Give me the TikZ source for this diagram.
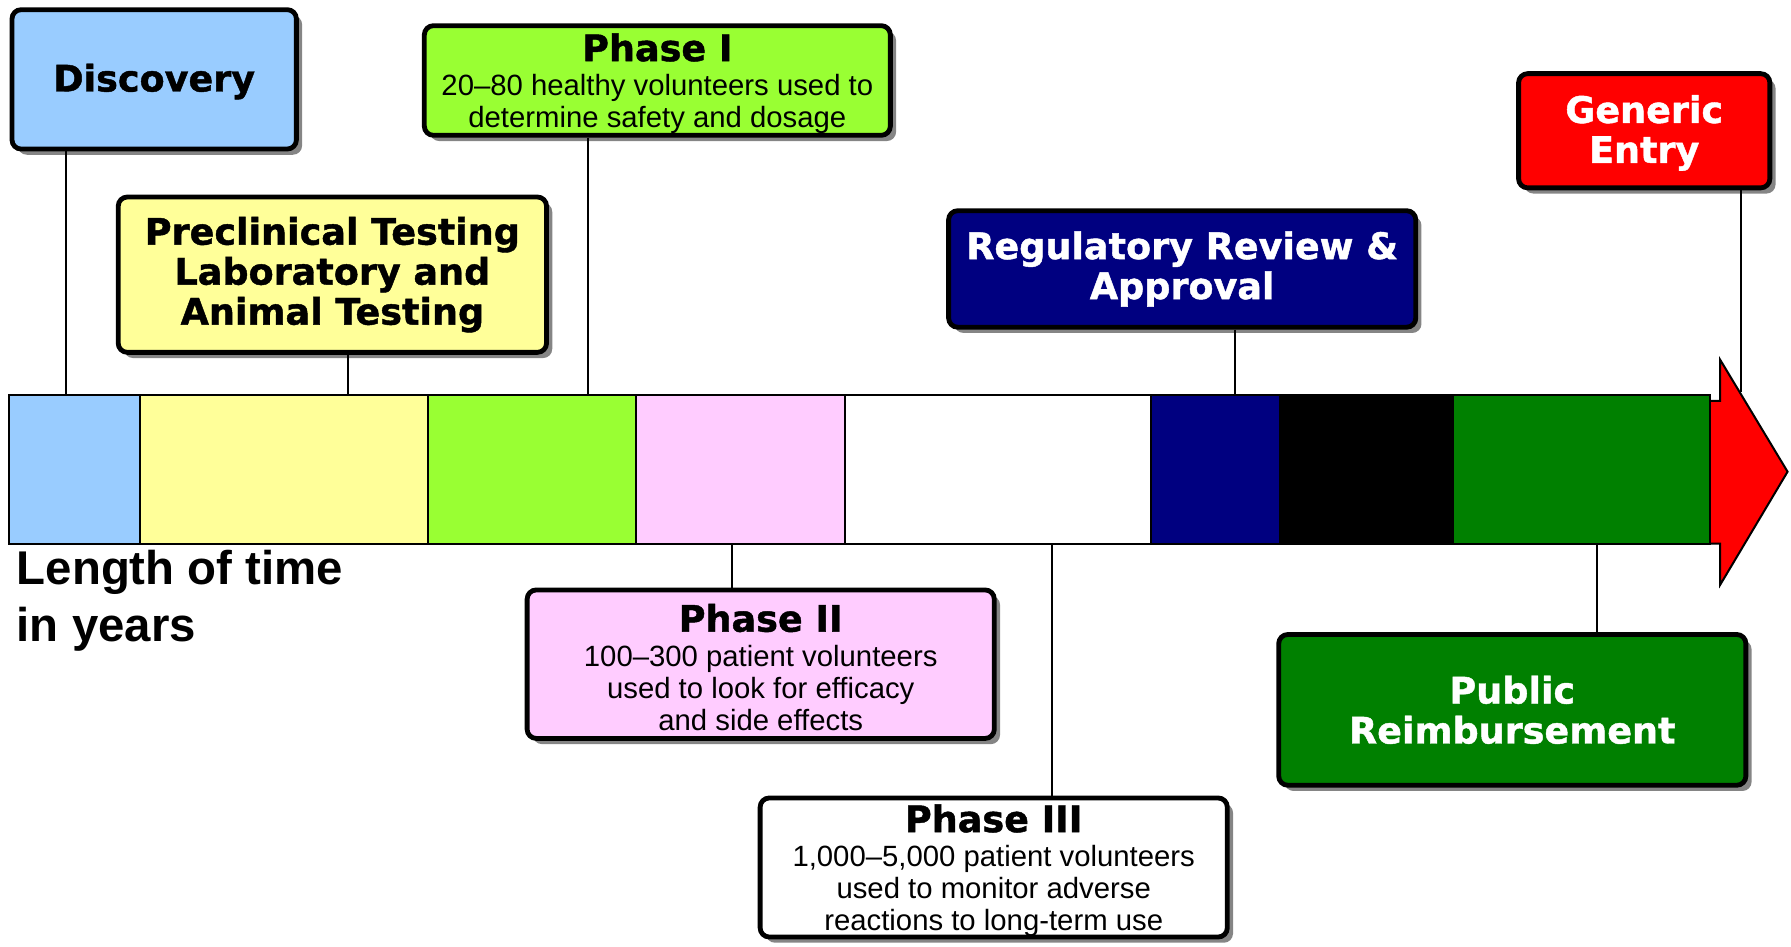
\documentclass[tikz,border=0pt]{standalone}
\usepackage{fontspec}
\setmainfont{Liberation Sans}
\newfontfamily\blackfont{DejaVu Sans}[BoldFeatures={FakeBold=1.2}]
\usetikzlibrary{shadows}

\definecolor{discblue}{HTML}{99CCFF}
\definecolor{preyellow}{HTML}{FFFF99}
\definecolor{limegreen}{HTML}{99FF33}
\definecolor{palepink}{HTML}{FFCCFF}
\definecolor{regnavy}{HTML}{000080}
\definecolor{pubgreen}{HTML}{008000}
\definecolor{shadowgray}{HTML}{858585}

\newcommand{\stagefont}{\blackfont\bfseries\fontsize{9.1}{9.96}\selectfont}
\newcommand{\notefont}{\fontsize{7.3}{7.97}\selectfont}
\newcommand{\phasehead}[1]{{\stagefont\rule{0pt}{8.5pt}#1}\\[0.25mm]}

\begin{document}
\begin{tikzpicture}[x=0.1mm,y=-0.1mm]
\tikzstyle{stagebox}=[draw=black, line width=1.2pt, rounded corners=0.8mm, align=center, inner sep=0pt,
  drop shadow={shadow xshift=0.5mm, shadow yshift=-0.5mm, fill=shadowgray, opacity=1}];
\tikzstyle{cell}=[draw=black, line width=0.5pt];
\tikzstyle{tick}=[draw=black, line width=0.5pt];

\useasboundingbox (0,0) rectangle (1568,829);

\def \bartop{346};
\def \barbot{476};

% arrow head behind the bar
\draw [cell, fill=red] (1490,351) -- (1506,351) -- (1506,315) -- (1565,413) -- (1506,512) -- (1506,476) -- (1490,476) -- cycle;

% the bar, one cell per stage
\foreach \a/\b/\c in {8/123/discblue, 123/375/preyellow, 375/557/limegreen, 557/740/palepink,
                      740/1008/white, 1008/1121/regnavy, 1121/1272/black, 1272/1497/pubgreen}
  \draw [cell, fill=\c] (\a,\bartop) rectangle (\b,\barbot);

% where the labels meet the bar
\coordinate (tdisc) at (58,\bartop);
\coordinate (tprecl) at (305,\bartop);
\coordinate (tphone) at (515,\bartop);
\coordinate (treg) at (1081,\bartop);
\coordinate (tgen) at (1524,343);
\coordinate (tphtwo) at (641,\barbot);
\coordinate (tphthree) at (921,\barbot);
\coordinate (tpub) at (1398,\barbot);

% labels above the bar
\node (disc) [stagebox, fill=discblue, font=\stagefont, minimum width=24.9mm, minimum height=12.2mm] at (135,69.5) {\rule{0pt}{8pt}Discovery};
\node (precl) [stagebox, fill=preyellow, font=\stagefont, minimum width=37.5mm, minimum height=13.6mm] at (291,240.5)
  {Preclinical Testing\\Laboratory and\\Animal Testing};
\node (phone) [stagebox, fill=limegreen, font=\notefont, minimum width=40.8mm, minimum height=9.6mm] at (575.5,70.5)
  {\phasehead{Phase I}20--80 healthy volunteers used to\\determine safety and dosage};
\node (reg) [stagebox, fill=regnavy, text=white, font=\stagefont, minimum width=40.9mm, minimum height=10.2mm] at (1035,235.5)
  {Regulatory Review \&\\Approval};
\node (gen) [stagebox, fill=red, text=white, font=\stagefont, minimum width=22mm, minimum height=10mm] at (1439.5,114.5)
  {\rule{0pt}{8pt}Generic\\Entry};

% labels below the bar
\node (phtwo) [stagebox, fill=palepink, font=\notefont, minimum width=40.9mm, minimum height=13mm] at (666,581.5)
  {\phasehead{Phase II}100--300 patient volunteers\\used to look for efficacy\\and side effects};
\node (phthree) [stagebox, fill=white, font=\notefont, minimum width=40.9mm, minimum height=12mm] at (870,759.5)
  {\phasehead{Phase III}1,000--5,000 patient volunteers\\used to monitor adverse\\reactions to long-term use};
\node (pub) [stagebox, fill=pubgreen, text=white, font=\stagefont, minimum width=40.9mm, minimum height=13.2mm] at (1324,621.5)
  {Public\\Reimbursement};

\node (years) [anchor=north west, align=left, inner sep=0pt, font=\bfseries\fontsize{11.8}{14.2}\selectfont] at (14,481)
  {Length of time\\in years};

% ticks from the labels to the bar
\draw [tick] (disc.south -| tdisc) -- (tdisc);
\draw [tick] (precl.south -| tprecl) -- (tprecl);
\draw [tick] (phone.south -| tphone) -- (tphone);
\draw [tick] (reg.south -| treg) -- (treg);
\draw [tick] (gen.south -| tgen) -- (tgen);
\draw [tick] (tphtwo) -- (phtwo.north -| tphtwo);
\draw [tick] (tphthree) -- (phthree.north -| tphthree);
\draw [tick] (tpub) -- (pub.north -| tpub);

\end{tikzpicture}
\end{document}
